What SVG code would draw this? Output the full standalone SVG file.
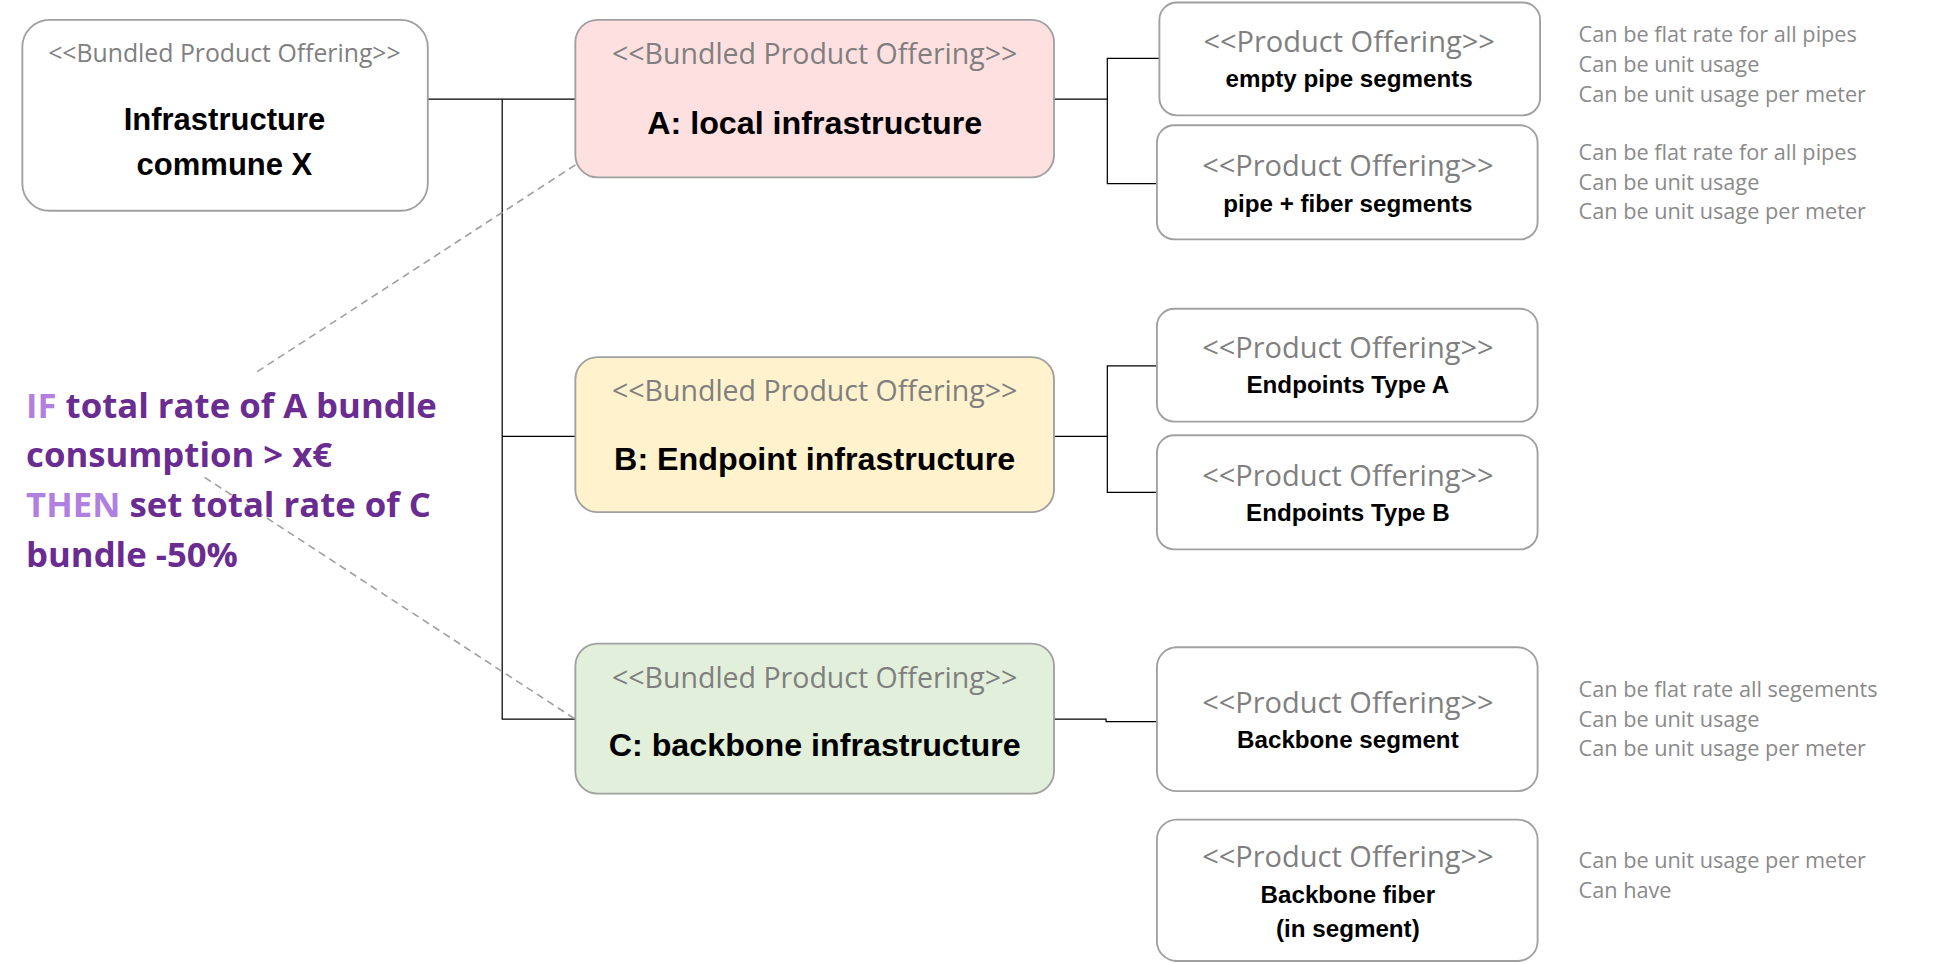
<svg xmlns="http://www.w3.org/2000/svg" width="1942" height="964" viewBox="0 0 1942 964">
<style>
.box{stroke:#a0a0a0;stroke-width:1.5;fill:#fff}
.st{font-family:"Open Sans",sans-serif;fill:#7f7f7f;text-anchor:middle}
.bl{font-family:"Liberation Sans",sans-serif;font-weight:bold;fill:#000;text-anchor:middle}
.nt{font-family:"Open Sans",sans-serif;fill:#8a8a8a;font-size:17.5px}
.cn{stroke:#000;stroke-width:1;fill:none}
.ds{stroke:#a0a0a0;stroke-width:1.3;fill:none;stroke-dasharray:6 4}
.cond{font-family:"Open Sans",sans-serif;font-weight:bold;font-size:28px;fill:#6a2c91}
.kw{fill:#b07fe0}
</style>
<rect width="1942" height="964" fill="#fff"/>
<g transform="scale(1.240)">
<g id="connectors">
<polyline class="cn" points="345,80 464,80"/>
<polyline class="cn" points="405,80 405,580 464,580"/>
<polyline class="cn" points="405,352 464,352"/>
<polyline class="cn" points="850,80 893,80"/>
<polyline class="cn" points="935,47 893,47 893,148 933,148"/>
<polyline class="cn" points="850,352 893,352"/>
<polyline class="cn" points="933,295 893,295 893,397 933,397"/>
<polyline class="cn" points="850,580 892,580 892,582 933,582"/>
<line class="ds" x1="464" y1="133" x2="207" y2="300"/>
<line class="ds" x1="165" y1="385" x2="464" y2="580"/>
</g>
<g id="root"><rect class="box" x="18" y="16" width="327" height="154" rx="22"/>
<text class="st" x="181" y="50" font-size="20">&lt;&lt;Bundled Product Offering&gt;&gt;</text>
<text class="bl" x="181" y="105" font-size="25">Infrastructure</text>
<text class="bl" x="181" y="141" font-size="25">commune X</text></g>
<g id="A"><rect class="box" x="464" y="16" width="386" height="127" rx="18" style="fill:#ffe0e0"/>
<text class="st" x="657" y="52" font-size="23">&lt;&lt;Bundled Product Offering&gt;&gt;</text>
<text class="bl" x="657" y="108" font-size="26">A: local infrastructure</text></g>
<g id="B"><rect class="box" x="464" y="288" width="386" height="125" rx="18" style="fill:#fff2cc"/>
<text class="st" x="657" y="323" font-size="23">&lt;&lt;Bundled Product Offering&gt;&gt;</text>
<text class="bl" x="657" y="379" font-size="26">B: Endpoint infrastructure</text></g>
<g id="C"><rect class="box" x="464" y="519" width="386" height="121" rx="18" style="fill:#e2efda"/>
<text class="st" x="657" y="555" font-size="23">&lt;&lt;Bundled Product Offering&gt;&gt;</text>
<text class="bl" x="657" y="610" font-size="26">C: backbone infrastructure</text></g>
<g id="p1"><rect class="box" x="935" y="2" width="307" height="91" rx="14"/>
<text class="st" x="1088" y="42" font-size="23.4">&lt;&lt;Product Offering&gt;&gt;</text>
<text class="bl" x="1088" y="70" font-size="19.5">empty pipe segments</text></g>
<g id="p2"><rect class="box" x="933" y="101" width="307" height="92" rx="14"/>
<text class="st" x="1087" y="142" font-size="23.4">&lt;&lt;Product Offering&gt;&gt;</text>
<text class="bl" x="1087" y="171" font-size="19.5">pipe + fiber segments</text></g>
<g id="p3"><rect class="box" x="933" y="249" width="307" height="91" rx="14"/>
<text class="st" x="1087" y="289" font-size="23.4">&lt;&lt;Product Offering&gt;&gt;</text>
<text class="bl" x="1087" y="317" font-size="19.5">Endpoints Type A</text></g>
<g id="p4"><rect class="box" x="933" y="351" width="307" height="92" rx="14"/>
<text class="st" x="1087" y="392" font-size="23.4">&lt;&lt;Product Offering&gt;&gt;</text>
<text class="bl" x="1087" y="420" font-size="19.5">Endpoints Type B</text></g>
<g id="p5"><rect class="box" x="933" y="522" width="307" height="116" rx="16"/>
<text class="st" x="1087" y="575" font-size="23.4">&lt;&lt;Product Offering&gt;&gt;</text>
<text class="bl" x="1087" y="603" font-size="19.5">Backbone segment</text></g>
<g id="p6"><rect class="box" x="933" y="661" width="307" height="114" rx="16"/>
<text class="st" x="1087" y="699" font-size="23.4">&lt;&lt;Product Offering&gt;&gt;</text>
<text class="bl" x="1087" y="728" font-size="19.5">Backbone fiber</text>
<text class="bl" x="1087" y="756" font-size="19.5">(in segment)</text></g>
<g id="notes">
<text class="nt" x="1273" y="34">Can be flat rate for all pipes</text>
<text class="nt" x="1273" y="58">Can be unit usage</text>
<text class="nt" x="1273" y="82">Can be unit usage per meter</text>
<text class="nt" x="1273" y="129">Can be flat rate for all pipes</text>
<text class="nt" x="1273" y="153">Can be unit usage</text>
<text class="nt" x="1273" y="177">Can be unit usage per meter</text>
<text class="nt" x="1273" y="562">Can be flat rate all segements</text>
<text class="nt" x="1273" y="586">Can be unit usage</text>
<text class="nt" x="1273" y="610">Can be unit usage per meter</text>
<text class="nt" x="1273" y="700">Can be unit usage per meter</text>
<text class="nt" x="1273" y="724">Can have</text>
</g>
<g id="condition">
<text class="cond" x="21" y="337"><tspan class="kw">IF</tspan> total rate of A bundle</text>
<text class="cond" x="21" y="377">consumption &gt; x€</text>
<text class="cond" x="21" y="417"><tspan class="kw">THEN</tspan> set total rate of C</text>
<text class="cond" x="21" y="457">bundle -50%</text>
</g>
</g>
</svg>
